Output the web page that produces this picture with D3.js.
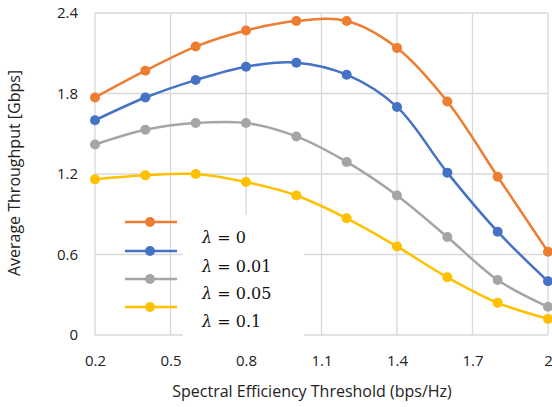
<!DOCTYPE html>
<html lang="en">
<head>
<meta charset="UTF-8">
<title>Average Throughput</title>
<script src="https://cdn.jsdelivr.net/npm/d3@7"></script>
<style>
  body { margin: 0; background: #fff; }
  text { font-family: "Open Sans", "Liberation Sans", sans-serif; fill: #222; }
  .grid line { stroke: #d9d9d9; stroke-width: 1.3; }
  .lam { font-family: "DejaVu Serif", "Liberation Serif", serif; font-size: 16px; fill: #111; }
</style>
</head>
<body>
<svg width="552" height="407"></svg>
<script>
// data
var thresholds = [0.2, 0.4, 0.6, 0.8, 1.0, 1.2, 1.4, 1.6, 1.8, 2.0];
var lambda0    = [1.77, 1.97, 2.15, 2.27, 2.34, 2.34, 2.14, 1.74, 1.18, 0.62];
var lambda001  = [1.60, 1.77, 1.90, 2.00, 2.03, 1.94, 1.70, 1.21, 0.77, 0.40];
var lambda005  = [1.42, 1.53, 1.58, 1.58, 1.48, 1.29, 1.04, 0.73, 0.41, 0.21];
var lambda01   = [1.16, 1.19, 1.20, 1.14, 1.04, 0.87, 0.66, 0.43, 0.24, 0.12];
var xTicks = [0.2, 0.5, 0.8, 1.1, 1.4, 1.7, 2];
var yTicks = [0, 0.6, 1.2, 1.8, 2.4];
var labels = ["\u03BB = 0", "\u03BB = 0.01", "\u03BB = 0.05", "\u03BB = 0.1"];
var colors = ["#ED7D31", "#4472C4", "#A5A5A5", "#FFC000"];

var series = [lambda0, lambda001, lambda005, lambda01];

var svg = d3.select("svg");
var pLeft = 95, pRight = 548, pTop = 13, pBottom = 335;

var x = d3.scaleLinear().domain([0.2, 2]).range([pLeft, pRight]);
var y = d3.scaleLinear().domain([0, 2.4]).range([pBottom, pTop]);

// gridlines
var grid = svg.append("g").attr("class", "grid");
grid.selectAll(".gx").data(xTicks).enter().append("line")
    .attr("x1", function (d) { return x(d); }).attr("x2", function (d) { return x(d); })
    .attr("y1", pTop).attr("y2", pBottom);
grid.selectAll(".gy").data(yTicks).enter().append("line")
    .attr("x1", pLeft).attr("x2", pRight)
    .attr("y1", function (d) { return y(d); }).attr("y2", function (d) { return y(d); });

// axes (labels only)
var xAxis = svg.append("g")
    .attr("transform", "translate(0," + pBottom + ")")
    .call(d3.axisBottom(x).tickValues(xTicks).tickSize(0).tickPadding(20)
        .tickFormat(function (d) { return d === 2 ? "2" : d3.format(".1f")(d); }));
var yAxis = svg.append("g")
    .attr("transform", "translate(" + pLeft + ",0)")
    .call(d3.axisLeft(y).tickValues(yTicks).tickSize(0).tickPadding(17)
        .tickFormat(function (d) { return d === 0 ? "0" : d3.format(".1f")(d); }));
[xAxis, yAxis].forEach(function (a) {
    a.select(".domain").remove();
    a.selectAll("text").style("font-size", "15px").style("font-family", "'Open Sans', sans-serif").attr("fill", "#222");
});

// lines and markers
var line = d3.line()
    .x(function (d, i) { return x(thresholds[i]); })
    .y(function (d) { return y(d); })
    .curve(d3.curveCatmullRom);

series.forEach(function (s, k) {
    svg.append("path").datum(s)
        .attr("d", line)
        .attr("fill", "none")
        .attr("stroke", colors[k])
        .attr("stroke-width", 2.5);
    svg.selectAll(".pt" + k).data(s).enter().append("circle")
        .attr("cx", function (d, i) { return x(thresholds[i]); })
        .attr("cy", function (d) { return y(d); })
        .attr("r", 5)
        .attr("fill", colors[k]);
});

// legend keys
var legY = [222, 251, 279, 307];
colors.forEach(function (c, k) {
    svg.append("line").attr("x1", 125).attr("x2", 177)
        .attr("y1", legY[k]).attr("y2", legY[k])
        .attr("stroke", c).attr("stroke-width", 2.5);
    svg.append("circle").attr("cx", 150).attr("cy", legY[k]).attr("r", 5).attr("fill", c);
});

// text box over the legend
svg.append("rect").attr("x", 183).attr("y", 215).attr("width", 121).attr("height", 123).attr("fill", "#fff");
var labY = [243, 272, 299, 327];
labels.forEach(function (t, k) {
    var tx = svg.append("text").attr("class", "lam").attr("x", 202).attr("y", labY[k]);
    tx.append("tspan").attr("font-style", "italic").text(t.slice(0, 1));
    tx.append("tspan").text(t.slice(1));
});

// axis titles
svg.append("text")
    .attr("x", 312).attr("y", 397)
    .attr("text-anchor", "middle")
    .style("font-size", "16px")
    .text("Spectral Efficiency Threshold (bps/Hz)");
svg.append("text")
    .attr("transform", "translate(20,173) rotate(-90)")
    .attr("text-anchor", "middle")
    .style("font-size", "16px")
    .text("Average Throughput [Gbps]");
</script>
</body>
</html>
